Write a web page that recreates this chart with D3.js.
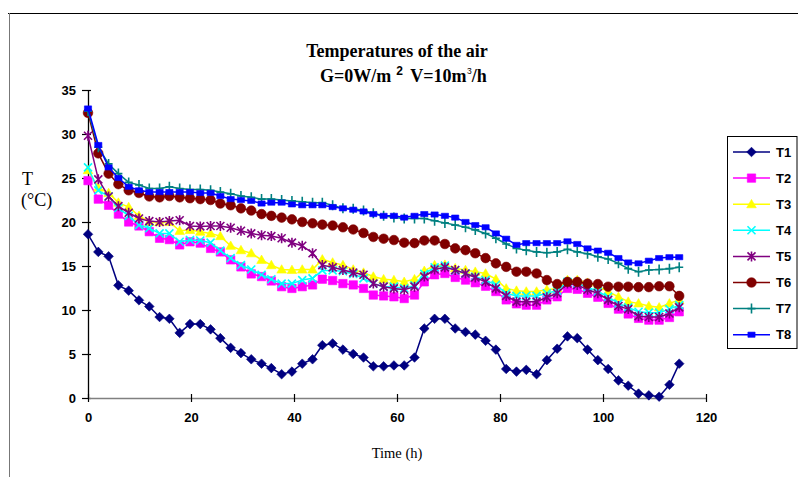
<!DOCTYPE html>
<html>
<head>
<meta charset="utf-8">
<script src="https://cdn.jsdelivr.net/npm/d3@7"></script>
<style>
  html, body { margin: 0; padding: 0; background: #fff; }
  svg { display: block; }
</style>
</head>
<body>
<script>
// Sampling times (h)
const hours = [0, 2.0, 4.0, 5.9, 7.9, 9.9, 11.9, 13.9, 15.8, 17.8, 19.8, 21.8, 23.8, 25.7, 27.7,
  29.7, 31.7, 33.7, 35.6, 37.6, 39.6, 41.6, 43.6, 45.5, 47.5, 49.5, 51.5, 53.5, 55.4, 57.4,
  59.4, 61.4, 63.4, 65.3, 67.3, 69.3, 71.3, 73.3, 75.2, 77.2, 79.2, 81.2, 83.2, 85.1, 87.1,
  89.1, 91.1, 93.1, 95.0, 97.0, 99.0, 101.0, 103.0, 104.9, 106.9, 108.9, 110.9, 112.9, 114.8];

// Air temperatures (°C) at each sensor
const T1 = [18.6, 16.6, 16.1, 12.8, 12.2, 11.1, 10.4, 9.2, 9.0, 7.4, 8.4, 8.4, 7.8, 6.8, 5.7, 5.1, 4.4, 3.9,
  3.4, 2.7, 3.0, 3.9, 4.4, 6.0, 6.2, 5.5, 5.0, 4.6, 3.6, 3.6, 3.7, 3.7, 4.6, 7.9, 9.0, 9.0, 7.9,
  7.5, 7.2, 6.5, 5.5, 3.3, 3.0, 3.2, 2.7, 4.3, 5.6, 7.0, 6.8, 5.5, 4.3, 3.3, 2.0, 1.4, 0.5, 0.3, 0.15, 1.5, 3.9];
const T2 = [24.7, 22.6, 21.9, 20.9,
  20.0, 19.55, 18.9, 18.15, 18.0, 17.4, 17.75, 17.6, 17.0, 16.6, 15.7, 14.9, 14.1, 13.8,
  13.3, 12.65, 12.45, 12.65, 12.85, 13.5, 13.35, 13.0, 12.85, 12.45, 11.7, 11.6, 11.5, 11.3, 11.7, 13.2, 14.0, 14.15, 13.7, 13.4,
  13.1, 12.7, 12.1, 11.15, 10.7, 10.55, 10.55, 11.15, 11.5, 12.45, 12.35, 11.9, 11.45, 10.75, 10.1, 9.55, 9.05, 8.85, 8.85, 9.15, 9.8];
const T3 = [25.9, 23.9, 23.3, 22.2, 21.7, 20.7,
  20.0, 20.0, 20.0, 19.0, 19.1, 18.9, 18.7, 18.4, 17.3, 16.8, 16.45, 15.7,
  15.1, 14.6, 14.55, 14.6, 14.6, 15.75, 15.4, 15.1, 14.6, 14.25, 13.8, 13.5, 13.4, 13.2, 13.5, 14.45, 15.1, 15.15, 14.75, 14.55,
  14.35, 14.15, 13.5, 12.45, 12.2, 12.1, 12.1, 12.3, 12.45, 13.4, 13.4, 13.1, 12.7, 12.1, 11.5, 10.95, 10.75, 10.45, 10.3, 10.75, 11.15];
const T4 = [26.2, 23.6, 22.9, 21.6, 20.7,
  19.65, 19.3, 18.7, 18.7, 17.75, 17.95, 17.9, 17.65, 16.75, 15.9, 15.1, 14.6, 14.0,
  13.5, 13.0, 13.0, 13.4, 13.6, 14.5, 14.5, 14.4, 14.1, 13.6, 13.0, 12.65, 12.65, 12.45, 12.8, 14.1, 14.85, 15.05, 14.5, 14.15,
  13.8, 13.4, 12.85, 11.9, 11.6, 11.6, 11.6, 11.9, 12.2, 13.2, 13.0, 12.6, 12.1, 11.5, 10.75, 10.3, 9.8, 9.7, 9.7, 10.1, 10.55];
const T5 = [29.8, 24.85, 22.9, 21.8, 21.05, 20.4, 20.1, 20.0, 20.1, 20.2, 19.55, 19.5, 19.55, 19.55, 19.35, 19.0, 18.7, 18.5,
  18.4, 18.15, 17.65, 17.3, 16.45, 15.1, 14.85, 14.55, 14.25, 14.0, 13.0, 12.65, 12.45, 12.3, 12.65, 13.8, 14.6, 14.85, 14.55, 14.15,
  13.7, 13.2, 12.45, 11.6, 10.95, 10.95, 10.95, 11.45, 11.9, 13.0, 12.85, 12.3, 11.9, 11.15, 10.45, 10.1, 9.3, 9.2, 9.2, 9.6, 10.3];
const T6 = [32.4, 27.8, 25.5, 24.3, 23.6, 23.3, 22.9, 22.8, 22.95, 22.8, 22.7, 22.6, 22.5, 22.1, 21.9, 21.55, 21.3, 20.9,
  20.7, 20.5, 20.3, 20.0, 19.85, 19.7, 19.6, 19.4, 19.15, 18.75, 18.3, 18.1, 17.95, 17.65, 17.6, 17.9, 17.9, 17.5, 17.0, 16.8,
  16.45, 15.9, 15.3, 14.9, 14.35, 14.35, 14.15, 13.4, 12.95, 13.2, 13.2, 13.0, 12.95, 12.65, 12.65, 12.65, 12.6, 12.6, 12.7, 12.7, 11.6];
const T7 = [32.6, 28.5, 26.6, 25.5, 24.5, 24.2, 23.8, 23.8, 24.0, 23.8, 23.7, 23.7, 23.6, 23.4, 23.2, 22.95, 22.8, 22.6,
  22.6, 22.5, 22.4, 22.3, 22.2, 22.2, 21.9, 21.55, 21.5, 21.3, 21.0, 20.7, 20.5, 20.4, 20.4, 20.4, 20.15, 19.9, 19.65, 19.4,
  19.1, 18.7, 18.15, 17.5, 17.0, 16.8, 16.6, 16.5, 16.6, 16.9, 16.6, 16.4, 16.05, 15.8, 15.3, 14.7, 14.35, 14.55, 14.6, 14.7, 14.85];
const T8 = [32.9, 28.75, 26.2, 25.0, 24.0, 23.6, 23.4, 23.4, 23.4, 23.4, 23.4, 23.3, 23.3, 22.95, 22.6, 22.5, 22.4, 22.1,
  22.2, 22.2, 22.0, 21.9, 21.9, 21.9, 21.7, 21.55, 21.4, 21.2, 20.9, 20.7, 20.7, 20.5, 20.7, 20.9, 20.85, 20.7, 20.5, 20.0,
  19.65, 19.4, 18.7, 18.1, 17.4, 17.6, 17.6, 17.6, 17.6, 17.8, 17.5, 17.0, 16.75, 16.5, 15.9, 15.4, 15.3, 15.6, 15.9, 16.0, 16.0];

const seriesNames = ["T1", "T2", "T3", "T4", "T5", "T6", "T7", "T8"];
const seriesValues = [T1, T2, T3, T4, T5, T6, T7, T8];
const seriesColors = ["#000080", "#FF00FF", "#FFFF00", "#00FFFF", "#800080", "#800000", "#008080", "#0000FF"];
const seriesMarkers = ["diamond", "square", "triangle", "x", "star", "circle", "plus", "dash"];

const yTicks = [0, 5, 10, 15, 20, 25, 30, 35];
const xTicks = [0, 20, 40, 60, 80, 100, 120];

const titleLine1 = "Temperatures of the air";
const xTitle = "Time (h)";

const W = 798, H = 477;
const serif = "'Liberation Serif', 'Times New Roman', serif";
const sans = "'Liberation Sans', Arial, sans-serif";

const svg = d3.select("body").append("svg")
  .attr("width", W).attr("height", H);

svg.append("rect").attr("width", W).attr("height", H).attr("fill", "#fff");

// outer frame (top and left edges)
svg.append("line").attr("x1", 8).attr("x2", W).attr("y1", 13.5).attr("y2", 13.5)
  .attr("stroke", "#000").attr("stroke-width", 1.2);
svg.append("line").attr("x1", 9.5).attr("x2", 9.5).attr("y1", 13).attr("y2", H)
  .attr("stroke", "#777").attr("stroke-width", 1);

const x = d3.scaleLinear().domain([0, 120]).range([88, 706]);
const y = d3.scaleLinear().domain([0, 35]).range([398, 90]);

// title
svg.append("text")
  .attr("x", 397).attr("y", 57)
  .attr("text-anchor", "middle")
  .attr("font-family", serif).attr("font-weight", "bold").attr("font-size", 18)
  .text(titleLine1);

const t2 = svg.append("text")
  .attr("x", 320).attr("y", 81.5)
  .attr("font-family", serif).attr("font-weight", "bold").attr("font-size", 18);
t2.append("tspan").text("G=0W/m");
t2.append("tspan").attr("dx", 5).attr("dy", -6.5)
  .attr("font-family", sans).attr("font-size", 12).text("2");
t2.append("tspan").attr("dx", 3).attr("dy", 6.5).text(" V=10m");
t2.append("tspan").attr("dx", 0.5).attr("dy", -8)
  .attr("font-family", sans).attr("font-weight", "normal").attr("font-size", 8.5).text("3");
t2.append("tspan").attr("dy", 8).text("/h");

// y axis
const yAxis = svg.append("g")
  .attr("transform", "translate(88,0)")
  .call(d3.axisLeft(y).tickValues(yTicks).tickSizeInner(6).tickSizeOuter(0).tickPadding(6));
yAxis.select(".domain").attr("stroke", "#000").attr("stroke-width", 1.3);
yAxis.selectAll(".tick line").attr("x1", 3).attr("stroke", "#000").attr("stroke-width", 1.2);
yAxis.selectAll(".tick text")
  .attr("font-family", sans).attr("font-weight", "bold").attr("font-size", 13).attr("fill", "#000");

// x axis
const xAxis = svg.append("g")
  .attr("transform", "translate(0,398)")
  .call(d3.axisBottom(x).tickValues(xTicks).tickSizeInner(4).tickSizeOuter(0).tickPadding(11));
xAxis.select(".domain").attr("stroke", "#808080").attr("stroke-width", 1.6);
xAxis.selectAll(".tick line").attr("y1", -4).attr("stroke", "#000").attr("stroke-width", 1.2);
xAxis.selectAll(".tick text")
  .attr("font-family", sans).attr("font-weight", "bold").attr("font-size", 13).attr("fill", "#000");

// axis titles
svg.append("text").attr("x", 22).attr("y", 185)
  .attr("font-family", serif).attr("font-size", 18).text("T");
svg.append("text").attr("x", 21).attr("y", 206)
  .attr("font-family", serif).attr("font-size", 18).text("(\u00B0C)");
svg.append("text").attr("x", 397).attr("y", 458)
  .attr("text-anchor", "middle")
  .attr("font-family", serif).attr("font-size", 14.5).text(xTitle);

// marker shapes
const markerPath = {
  diamond: "M0,-4.8L4.8,0L0,4.8L-4.8,0Z",
  square: "M-4.2,-4.2h8.4v8.4h-8.4Z",
  triangle: "M0,-4.8L4.8,3.6L-4.8,3.6Z",
  x: "M-4,-4L4,4M4,-4L-4,4",
  star: "M-4,-4L4,4M4,-4L-4,4M0,-5V5",
  circle: null,
  plus: "M-4,0H4M0,-5V5",
  dash: "M-3.6,-2.6h7.2v5.2h-7.2Z"
};
const strokeOnly = { x: true, star: true, plus: true };

function drawMarker(g, type, color, cx, cy) {
  if (type === "circle") {
    g.append("circle").attr("cx", cx).attr("cy", cy).attr("r", 4.8)
      .attr("fill", color).attr("stroke", color).attr("stroke-width", 0.6);
  } else if (strokeOnly[type]) {
    g.append("path").attr("d", markerPath[type])
      .attr("transform", `translate(${cx},${cy})`)
      .attr("fill", "none").attr("stroke", color).attr("stroke-width", 1.6);
  } else {
    g.append("path").attr("d", markerPath[type])
      .attr("transform", `translate(${cx},${cy})`)
      .attr("fill", color).attr("stroke", color).attr("stroke-width", 0.6);
  }
}

const line = d3.line()
  .x((d, i) => x(hours[i]))
  .y(d => y(d));

// series (T1 first, T8 drawn on top)
seriesValues.forEach((vals, s) => {
  const g = svg.append("g");
  g.append("path").datum(vals)
    .attr("d", line)
    .attr("fill", "none")
    .attr("stroke", seriesColors[s])
    .attr("stroke-width", 1.5);
  vals.forEach((v, i) => drawMarker(g, seriesMarkers[s], seriesColors[s], x(hours[i]), y(v)));
});

// legend
const legend = svg.append("g");
legend.append("rect")
  .attr("x", 727.5).attr("y", 136.5).attr("width", 69.5).attr("height", 212)
  .attr("fill", "#fff").attr("stroke", "#000").attr("stroke-width", 1);
seriesNames.forEach((name, s) => {
  const ly = 152 + s * 26.1;
  legend.append("line").attr("x1", 733).attr("x2", 770).attr("y1", ly).attr("y2", ly)
    .attr("stroke", seriesColors[s]).attr("stroke-width", 1.5);
  drawMarker(legend, seriesMarkers[s], seriesColors[s], 751.5, ly);
  legend.append("text").attr("x", 776).attr("y", ly).attr("dy", "0.36em")
    .attr("font-family", sans).attr("font-weight", "bold").attr("font-size", 13)
    .text(name);
});
</script>
</body>
</html>
